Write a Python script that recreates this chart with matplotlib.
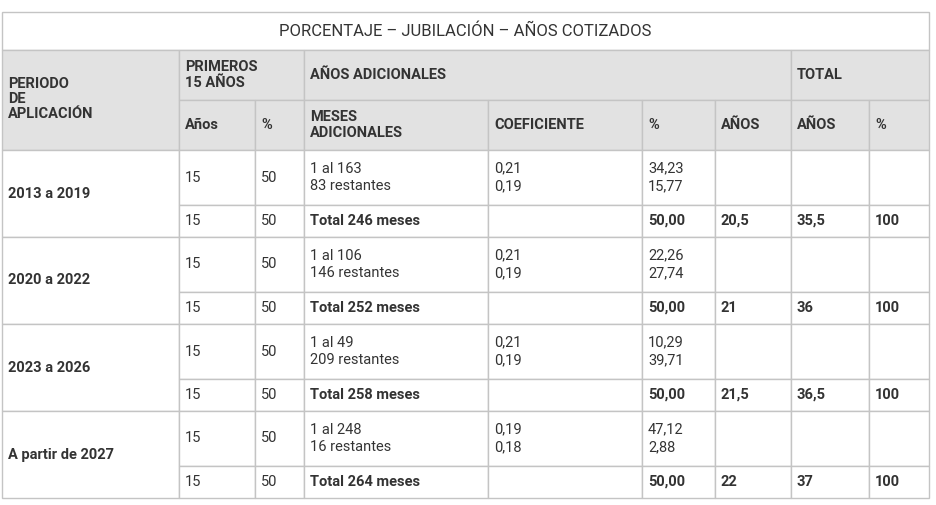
import matplotlib.pyplot as plt
from matplotlib import patches

# table data
title = "PORCENTAJE – JUBILACIÓN – AÑOS COTIZADOS"
periods = ["2013 a 2019", "2020 a 2022", "2023 a 2026", "A partir de 2027"]
first_years = ["15", "15", "15", "15"]
first_pct = ["50", "50", "50", "50"]
months = [["1 al 163", "83 restantes"], ["1 al 106", "146 restantes"],
          ["1 al 49", "209 restantes"], ["1 al 248", "16 restantes"]]
coefs = [["0,21", "0,19"], ["0,21", "0,19"], ["0,21", "0,19"], ["0,19", "0,18"]]
pcts = [["34,23", "15,77"], ["22,26", "27,74"], ["10,29", "39,71"], ["47,12", "2,88"]]
totals = ["Total 246 meses", "Total 252 meses", "Total 258 meses", "Total 264 meses"]
extra_years = ["20,5", "21", "21,5", "22"]
total_years = ["35,5", "36", "36,5", "37"]
total_pct = ["100", "100", "100", "100"]

plt.rcParams["font.family"] = "Roboto"
fig = plt.figure(figsize=(9.37, 5.05), dpi=100)
ax = fig.add_axes([0, 0, 1, 1])
ax.set_xlim(0, 937)
ax.set_ylim(505, 0)
ax.axis("off")

xs = [2, 179, 255, 304, 488, 642, 715, 791, 869, 929]
line = "#c4c4c4"
grey = "#e2e2e2"
txt = "#333333"


def cell(x0, y0, x1, y1, fill="white"):
    ax.add_patch(patches.Rectangle((x0, y0), x1 - x0, y1 - y0, facecolor=fill,
                                   edgecolor=line, linewidth=1))


def put(x, y, s, bold=False, size=10.5, **kw):
    ax.text(x, y, s, fontsize=size, color=txt, va="center",
            fontweight="bold" if bold else "normal", **kw)


# title
cell(xs[0], 12, xs[-1], 50)
put((xs[0] + xs[-1]) / 2, 31, title, ha="center", size=12)

# headers
cell(xs[0], 50, xs[1], 150, grey)
cell(xs[1], 50, xs[3], 100, grey)
cell(xs[3], 50, xs[7], 100, grey)
cell(xs[7], 50, xs[9], 100, grey)
for i in range(1, 9):
    cell(xs[i], 100, xs[i + 1], 150, grey)
put(8, 99, "PERIODO\nDE\nAPLICACIÓN", True, linespacing=1.1)
put(185, 75, "PRIMEROS\n15 AÑOS", True, linespacing=1.1)
put(310, 75, "AÑOS ADICIONALES", True)
put(797, 75, "TOTAL", True)
sub = ["Años", "%", "MESES\nADICIONALES", "COEFICIENTE", "%", "AÑOS", "AÑOS", "%"]
for i, s in enumerate(sub):
    put(xs[i + 1] + 6, 125, s, True, linespacing=1.1)

# body
y = 150
for k in range(len(periods)):
    y1, y2 = y + 55, y + 87
    cell(xs[0], y, xs[1], y2)
    put(8, (y + y2) / 2, periods[k], True)
    for i in range(1, 9):
        cell(xs[i], y, xs[i + 1], y1)
        cell(xs[i], y1, xs[i + 1], y2)
    ym, yt = (y + y1) / 2, (y1 + y2) / 2
    put(185, ym, first_years[k])
    put(261, ym, first_pct[k])
    put(310, ym, months[k][0] + "\n" + months[k][1], linespacing=1.35)
    put(494, ym, coefs[k][0] + "\n" + coefs[k][1], linespacing=1.35)
    put(648, ym, pcts[k][0] + "\n" + pcts[k][1], linespacing=1.35)
    put(185, yt, first_years[k])
    put(261, yt, first_pct[k])
    put(310, yt, totals[k], True)
    put(648, yt, "50,00", True)
    put(721, yt, extra_years[k], True)
    put(797, yt, total_years[k], True)
    put(875, yt, total_pct[k], True)
    y = y2

fig.savefig("out.png", dpi=100)
